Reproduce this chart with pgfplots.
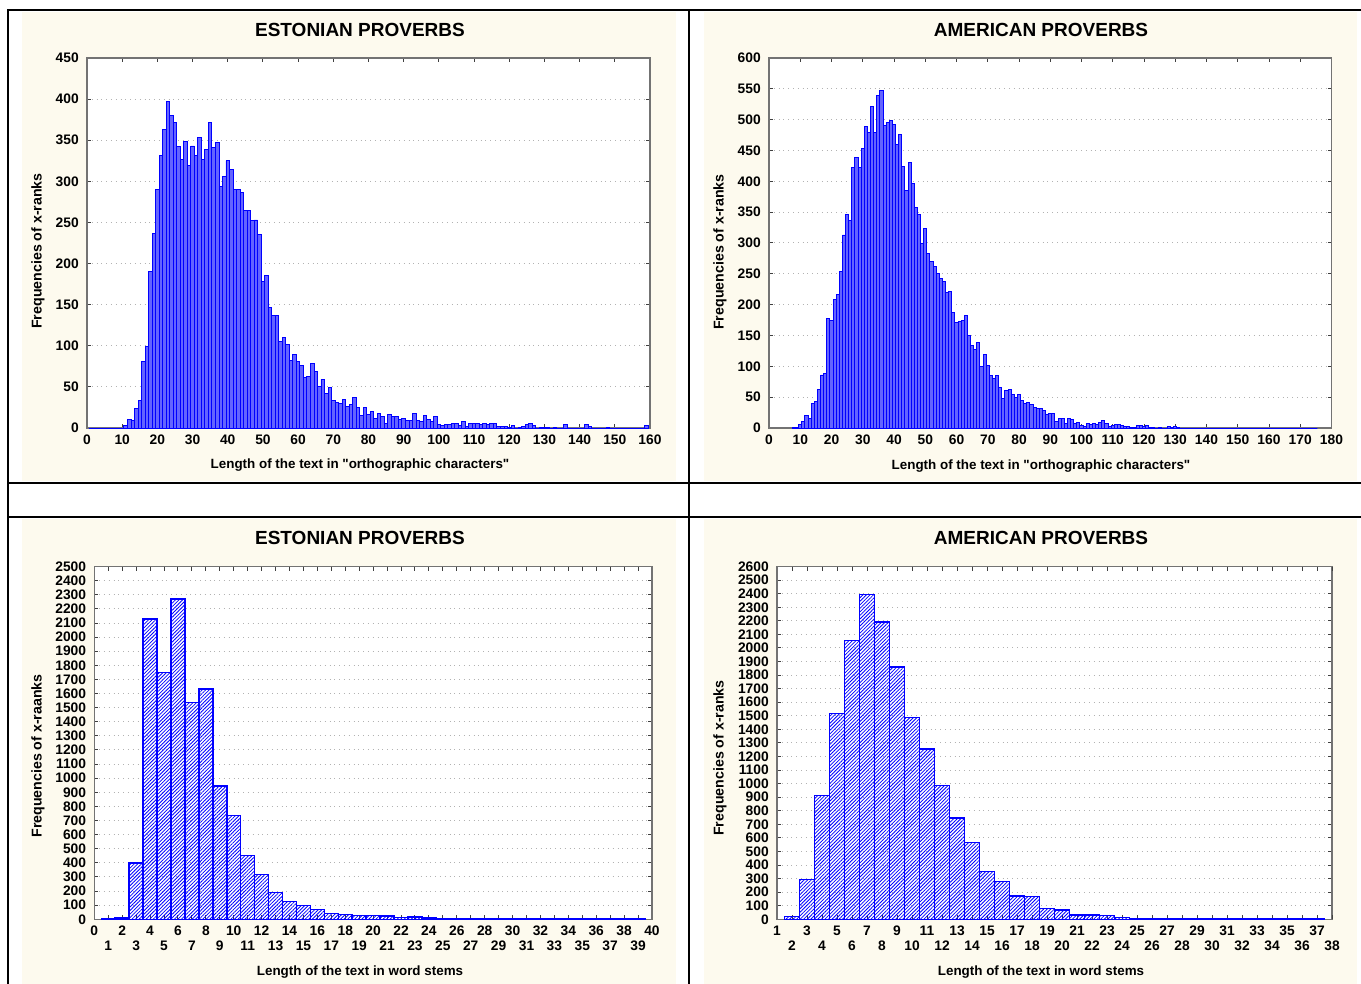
\documentclass[border=0pt]{standalone}
\usepackage{fontspec}
\setmainfont{Liberation Sans}
\newfontfamily\plainsans{Liberation Sans}
\usepackage{pgfplots}
\pgfplotsset{compat=1.18}
\usetikzlibrary{patterns.meta}
\definecolor{cream}{RGB}{253,250,238}
\definecolor{barblue}{RGB}{0,0,255}
\definecolor{barfill}{RGB}{100,100,255}
\pgfplotsset{
 myax/.style={
  scale only axis, anchor=south west, enlargelimits=false, ybar,
  clip=false,
  axis background/.style={fill=white},
  axis line style={draw=black!55, line width=0.6pt},
  tick align=inside, major tick length=2pt,
  every tick/.style={draw=black!75, line width=0.5pt},
  ymajorgrids, major grid style={draw=black!30, dotted, line width=0.5pt},
  tick label style={font=\fontsize{6.9}{7}\selectfont\bfseries},
  yticklabel style={xshift=-0.6pt},
  /pgf/number format/assume math mode=true,
  /pgf/number format/1000 sep={},
  scaled ticks=false, ymin=0,
 },
 topbar/.style={fill=barfill, draw=barblue, line width=0.45pt, bar width=1, bar shift=0pt},
 botbar/.style={draw=barblue, line width=0.75pt, bar width=1, bar shift=0pt,
   pattern={Lines[angle=45,distance=1.25pt,line width=0.4pt]}, pattern color=barblue},
}
\newcommand{\ttl}{\fontsize{9.5}{11}\selectfont\bfseries}
\newcommand{\lbl}{\plainsans\fontsize{6.7}{8}\selectfont\bfseries}
\newcommand{\ylbl}{\plainsans\fontsize{7.1}{8}\selectfont\bfseries}
\begin{document}
\begin{tikzpicture}
\useasboundingbox (0,0) rectangle (680.5pt,492pt);
\fill[white] (0,0) rectangle (680.5pt,492pt);
\fill[cream] (11pt,251.5pt) rectangle (338pt,486pt);
\fill[cream] (352pt,251.5pt) rectangle (678.5pt,486pt);
\fill[cream] (11pt,0pt) rectangle (338pt,232.5pt);
\fill[cream] (352pt,0pt) rectangle (678.5pt,232.5pt);
\draw[line width=1.4pt] (4pt,0) -- (4pt,487pt) -- (680.5pt,487pt);
\draw[line width=1.4pt] (344.5pt,0) -- (344.5pt,487pt);
\draw[line width=1.4pt] (4pt,250.5pt) -- (680.5pt,250.5pt);
\draw[line width=1.4pt] (4pt,233.5pt) -- (680.5pt,233.5pt);

% titles and labels
\node[font=\ttl] at (180pt,477pt) {ESTONIAN PROVERBS};
\node[font=\ttl] at (520.5pt,477pt) {AMERICAN PROVERBS};
\node[font=\ttl] at (180pt,223pt) {ESTONIAN PROVERBS};
\node[font=\ttl] at (520.5pt,223pt) {AMERICAN PROVERBS};
\node[font=\lbl] at (180pt,259.5pt) {Length of the text in "orthographic characters"};
\node[font=\lbl] at (520.5pt,259pt) {Length of the text in "orthographic characters"};
\node[font=\lbl] at (180pt,6pt) {Length of the text in word stems};
\node[font=\lbl] at (520.5pt,6pt) {Length of the text in word stems};
\node[font=\ylbl, rotate=90] at (19pt,366.5pt) {Frequencies of x-ranks};
\node[font=\ylbl, rotate=90] at (360pt,366pt) {Frequencies of x-ranks};
\node[font=\ylbl, rotate=90] at (19pt,114pt) {Frequencies of x-raanks};
\node[font=\ylbl, rotate=90] at (360pt,113pt) {Frequencies of x-ranks};

% P1 Estonian characters
\begin{axis}[myax, at={(43.5pt,278pt)}, width=281.5pt, height=185pt,
  xmin=0, xmax=160, ymax=450, xtick={0,10,...,160}, ytick={0,50,...,450}]
\addplot[topbar] coordinates {(1,0)(2,0)(3,0)(4,0)(5,0)(6,0)(7,0)(8,0)(9,0)(10,0)(11,3)(12,10)(13,9)(14,24)(15,34)(16,81)(17,99)(18,190)(19,237)(20,290)(21,331)(22,363)(23,397)(24,380)(25,372)(26,342)(27,327)(28,348)(29,319)(30,343)(31,332)(32,353)(33,327)(34,339)(35,372)(36,341)(37,347)(38,294)(39,306)(40,325)(41,314)(42,290)(43,290)(44,287)(45,265)(46,264)(47,252)(48,253)(49,235)(50,178)(51,186)(52,146)(53,137)(54,137)(55,105)(56,110)(57,101)(58,82)(59,89)(60,81)(61,76)(62,61)(63,63)(64,78)(65,69)(66,51)(67,59)(68,42)(69,49)(70,33)(71,31)(72,30)(73,35)(74,26)(75,29)(76,37)(77,25)(78,15)(79,25)(80,17)(81,20)(82,12)(83,18)(84,14)(85,6)(86,17)(87,14)(88,14)(89,10)(90,11)(91,9)(92,9)(93,18)(94,9)(95,8)(96,15)(97,10)(98,8)(99,14)(100,4)(101,3)(102,4)(103,4)(104,5)(105,6)(106,3)(107,8)(108,2)(109,5)(110,5)(111,6)(112,4)(113,6)(114,4)(115,5)(116,5)(117,2)(118,2)(119,2)(120,1)(121,3)(122,0)(123,1)(124,2)(125,4)(126,5)(127,3)(128,0)(129,1)(130,1)(131,1)(132,0)(133,1)(134,0)(135,0)(136,4)(137,0)(138,0)(139,0)(140,0)(141,0)(142,4)(143,2)(144,0)(145,0)(146,0)(147,0)(148,1)(149,0)(150,0)(151,0)(152,0)(153,0)(154,0)(155,0)(156,0)(157,0)(158,0)(159,3)};
\end{axis}

% P2 American characters
\begin{axis}[myax, at={(384.5pt,278pt)}, width=281.25pt, height=185pt,
  xmin=0, xmax=180, ymax=600, xtick={0,10,...,180}, ytick={0,50,...,600}]
\addplot[topbar] coordinates {(8,1)(9,1)(10,5)(11,11)(12,21)(13,16)(14,40)(15,43)(16,63)(17,86)(18,89)(19,177)(20,175)(21,208)(22,216)(23,254)(24,313)(25,346)(26,337)(27,423)(28,438)(29,423)(30,453)(31,489)(32,480)(33,522)(34,480)(35,540)(36,547)(37,490)(38,495)(39,498)(40,492)(41,459)(42,476)(43,424)(44,385)(45,431)(46,396)(47,357)(48,346)(49,299)(50,324)(51,283)(52,270)(53,262)(54,251)(55,242)(56,238)(57,219)(58,221)(59,188)(60,171)(61,173)(62,174)(63,182)(64,150)(65,134)(66,127)(67,139)(68,99)(69,119)(70,101)(71,85)(72,81)(73,85)(74,66)(75,48)(76,61)(77,62)(78,54)(79,49)(80,55)(81,45)(82,40)(83,42)(84,38)(85,33)(86,32)(87,31)(88,28)(89,22)(90,23)(91,23)(92,10)(93,16)(94,15)(95,8)(96,15)(97,14)(98,7)(99,9)(100,4)(101,3)(102,7)(103,6)(104,8)(105,6)(106,9)(107,12)(108,7)(109,3)(110,4)(111,5)(112,5)(113,4)(114,2)(115,3)(116,1)(117,1)(118,4)(119,4)(120,2)(121,4)(122,1)(123,1)(124,0)(125,1)(126,0)(127,0)(128,2)(129,1)(130,3)(131,1)(132,0)(133,0)(134,0)(135,0)(136,0)(137,0)(138,0)(139,0)(140,0)(141,0)(142,0)(143,0)(144,0)(145,0)(146,0)(147,0)(148,0)(149,0)(150,0)(151,0)(152,0)(153,0)(154,0)(155,0)(156,0)(157,0)(158,0)(159,0)(160,0)(161,0)(162,0)(163,0)(164,0)(165,0)(166,0)(167,0)(168,0)(169,0)(170,0)(171,0)(172,0)(173,0)(174,0)(175,0)};
\end{axis}

% P3 Estonian word stems
\begin{axis}[myax, at={(47.15pt,32.35pt)}, width=278.85pt, height=176.35pt,
  xmin=0, xmax=40, ymax=2500, xtick={0,2,...,40}, ytick={0,100,...,2500},
  extra x ticks={1,3,...,39}, extra x tick style={tick label style={yshift=-7.5pt}}]
\addplot[botbar] coordinates {(1,2)(2,10)(3,400)(4,2127)(5,1750)(6,2269)(7,1535)(8,1634)(9,945)(10,735)(11,453)(12,318)(13,191)(14,127)(15,99)(16,70)(17,42)(18,35)(19,26)(20,26)(21,22)(22,12)(23,18)(24,10)(25,5)(26,4)(27,3)(28,2)(29,2)(30,1)(31,1)(32,1)(33,1)(34,1)(35,1)(36,1)(37,1)(38,1)(39,1)};
\end{axis}

% P4 American word stems
\begin{axis}[myax, at={(388.5pt,32.35pt)}, width=277.5pt, height=176.35pt,
  xmin=1, xmax=38, ymax=2600, xtick={1,3,...,37}, ytick={0,100,...,2600},
  extra x ticks={2,4,...,38}, extra x tick style={tick label style={yshift=-7.5pt}}]
\addplot[botbar] coordinates {(2,22)(3,294)(4,912)(5,1516)(6,2055)(7,2396)(8,2190)(9,1861)(10,1486)(11,1255)(12,985)(13,748)(14,566)(15,353)(16,277)(17,171)(18,167)(19,78)(20,68)(21,31)(22,31)(23,27)(24,14)(25,7)(26,3)(27,2)(28,1)(29,1)(30,1)(31,1)(32,1)(33,1)(34,1)(35,1)(36,1)(37,1)};
\end{axis}
\end{tikzpicture}
\end{document}
